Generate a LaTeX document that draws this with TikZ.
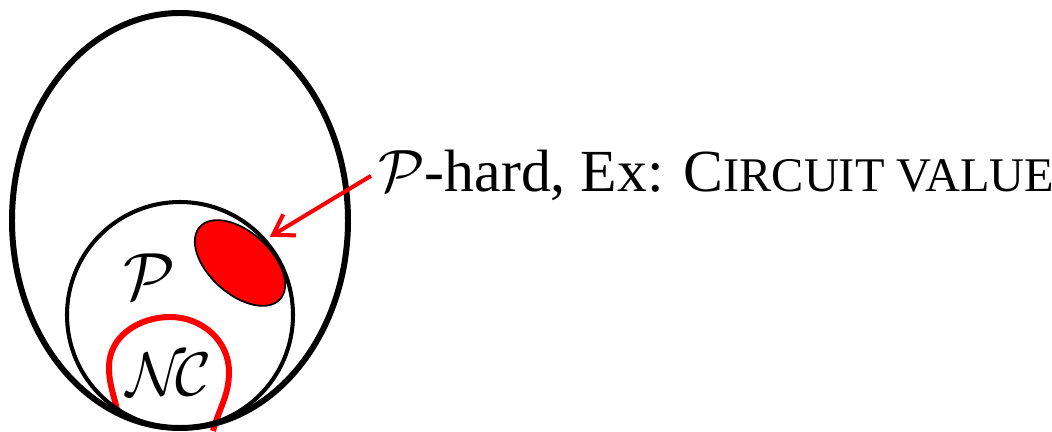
\documentclass[tikz,border=0pt]{standalone}
\usepackage{fontspec}
\setmainfont{Liberation Serif}
\DeclareFontShape{OMS}{cmsy}{m}{n}{<-> cmsy10}{}
\usetikzlibrary{arrows.meta,shapes.geometric}
\newcommand{\lowcaps}[1]{{\fontsize{27.5}{33}\selectfont #1}}
\tikzset{
  classline/.style={
    draw,
    line width=3.4pt
  },
  subclass/.style={
    draw,
    line width=2.3pt
  },
  nclass/.style={
    draw=red,
    line width=3.4pt
  },
  hardset/.style={
    draw,
    ellipse,
    line width=1pt,
    fill=red,
    minimum width=2.16cm,
    minimum height=1.24cm,
    inner sep=0pt
  },
  classname/.style={
    font=\fontsize{38}{44}\selectfont,
    inner sep=0pt
  },
  note/.style={
    font=\fontsize{34}{40}\selectfont,
    inner sep=0pt
  },
  flow/.style={
    -{Straight Barb[length=11pt,width=14pt]},
    draw=red,
    line width=2.3pt
  }
}

\begin{document}
\begin{tikzpicture}
  \useasboundingbox (0,0) rectangle (21.04,8.64);

  % NC region, under the class outlines
  \draw[nclass] (2.36,0.34) to[out=100,in=-90] (2.18,1.3) to[out=90,in=180] (3.4,2.3)
    to[out=0,in=90] (4.58,1.2) to[out=-90,in=75] (4.26,0.02);

  \draw[classline] (3.6,4.23) ellipse[x radius=3.36, y radius=4.15];
  \draw[subclass] (3.6,2.34) circle[radius=2.26];

  \node[hardset, rotate=-42] (hard) at (4.8,3.38) {};

  \node[classname] (p) at (2.98,3.1) {$\mathcal{P}$};
  \node[classname, font=\fontsize{35}{40}\selectfont] (nc) at (3.38,1.16) {$\mathcal{N}\!\mathcal{C}$};

  \node[note, anchor=base west] (label) at (7.56,4.8) {$\mathcal{P}$-hard, Ex: C\lowcaps{IRCUIT VALUE}};

  \draw[flow] ([xshift=-4pt]label.west) -- ([shift={(0.17,0.05)}]hard.north);
\end{tikzpicture}
\end{document}
